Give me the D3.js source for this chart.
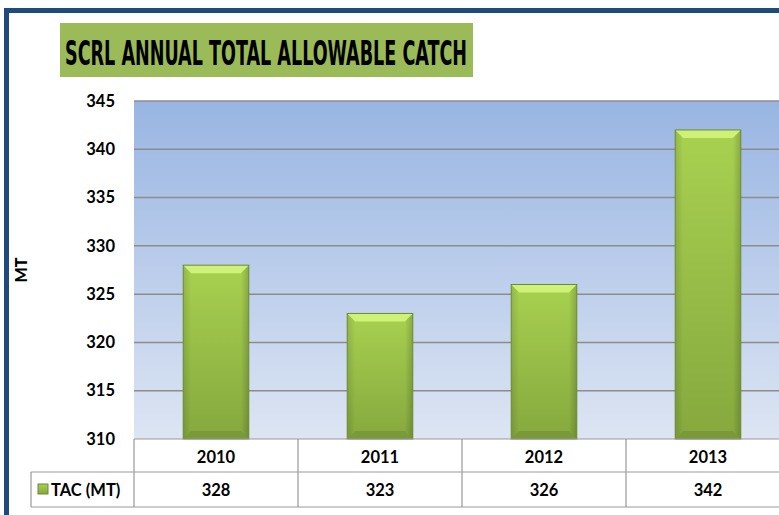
<!DOCTYPE html>
<html>
<head>
<meta charset="utf-8">
<script src="https://cdn.jsdelivr.net/npm/d3@7"></script>
<style>
  body { margin: 0; background: #fff; }
  svg { display: block; font-family: Lato, "Open Sans", sans-serif; }
</style>
</head>
<body>
<div id="chart"></div>
<script>
// chart data
const years = ["2010", "2011", "2012", "2013"];
const tac = [328, 323, 326, 342];
const yTicks = [310, 315, 320, 325, 330, 335, 340, 345];
const seriesName = "TAC (MT)";
const titleText = "SCRL ANNUAL TOTAL ALLOWABLE CATCH";

const width = 779, height = 515;
const plot = {left: 134, right: 790, top: 101, bottom: 439};
const rowH1 = 33, rowH2 = 35;

let svg = d3.select("#chart").append("svg")
    .attr("width", width)
    .attr("height", height);

let defs = svg.append("defs");

// plot background gradient
let bg = defs.append("linearGradient").attr("id", "bgGrad")
    .attr("x1", 0).attr("y1", 0).attr("x2", 0).attr("y2", 1);
bg.append("stop").attr("offset", "0%").attr("stop-color", "#98b5e2");
bg.append("stop").attr("offset", "100%").attr("stop-color", "#dde5f3");

// bar body gradient
let bar = defs.append("linearGradient").attr("id", "barGrad")
    .attr("x1", 0).attr("y1", 0).attr("x2", 0).attr("y2", 1);
bar.append("stop").attr("offset", "0%").attr("stop-color", "#a8d150");
bar.append("stop").attr("offset", "100%").attr("stop-color", "#86a83e");

let barSide = defs.append("linearGradient").attr("id", "barSide")
    .attr("x1", 0).attr("y1", 0).attr("x2", 1).attr("y2", 0);
barSide.append("stop").attr("offset", "0%").attr("stop-color", "#000").attr("stop-opacity", 0.12);
barSide.append("stop").attr("offset", "12%").attr("stop-color", "#000").attr("stop-opacity", 0);
barSide.append("stop").attr("offset", "88%").attr("stop-color", "#000").attr("stop-opacity", 0);
barSide.append("stop").attr("offset", "100%").attr("stop-color", "#000").attr("stop-opacity", 0.18);

// frame
svg.append("rect").attr("x", 4).attr("y", 8).attr("width", width).attr("height", 5).attr("fill", "#1f4a7e");
svg.append("rect").attr("x", 4).attr("y", 8).attr("width", 5).attr("height", height).attr("fill", "#1f4a7e");

// title
svg.append("rect").attr("x", 60).attr("y", 23).attr("width", 413).attr("height", 54).attr("fill", "#9bbb59");
svg.append("text")
    .attr("x", 65).attr("y", 65)
    .attr("textLength", 402).attr("lengthAdjust", "spacingAndGlyphs")
    .attr("font-family", "'Liberation Sans Narrow', 'DejaVu Sans Condensed', Lato, sans-serif")
    .attr("font-size", 34).attr("font-weight", "bold").attr("fill", "#000")
    .text(titleText);

// scales
let x = d3.scaleBand().domain(years).range([plot.left, plot.right]).paddingInner(0).paddingOuter(0);
let y = d3.scaleLinear().domain([310, 345]).range([plot.bottom, plot.top]);
let barW = x.bandwidth() * 0.4;

// plot area
svg.append("rect")
    .attr("x", plot.left).attr("y", plot.top)
    .attr("width", plot.right - plot.left).attr("height", plot.bottom - plot.top)
    .attr("fill", "url(#bgGrad)");

// gridlines
svg.append("g").selectAll("line")
    .data(yTicks.slice(1))
    .join("line")
    .attr("x1", plot.left).attr("x2", plot.right)
    .attr("y1", d => y(d)).attr("y2", d => y(d))
    .attr("stroke", "#8c8c8c").attr("stroke-width", 1.5);

// y axis labels
let yAxis = d3.axisLeft(y).tickValues(yTicks).tickSize(0).tickPadding(19);
svg.append("g")
    .attr("transform", "translate(" + plot.left + ",0)")
    .call(yAxis)
    .call(g => g.select(".domain").remove())
    .selectAll("text")
    .attr("font-family", "Lato, sans-serif")
    .attr("font-size", 16.5).attr("font-weight", "bold").attr("fill", "#000");

svg.append("text")
    .attr("transform", "translate(27,270) rotate(-90)")
    .attr("text-anchor", "middle")
    .attr("font-size", 16).attr("font-weight", 900)
    .text("MT");

// bars
let bars = svg.append("g").selectAll("g")
    .data(years.map((d, i) => ({year: d, value: tac[i]})))
    .join("g")
    .attr("transform", d => "translate(" + (x(d.year) + (x.bandwidth() - barW) / 2) + "," + y(d.value) + ")");

bars.append("rect")
    .attr("width", barW)
    .attr("height", d => plot.bottom - y(d.value))
    .attr("fill", "url(#barGrad)");
bars.append("rect")
    .attr("width", barW)
    .attr("height", d => plot.bottom - y(d.value))
    .attr("fill", "url(#barSide)");
// bevel top
bars.append("polygon")
    .attr("points", "0,0 " + barW + ",0 " + (barW - 8) + ",8 8,8")
    .attr("fill", "#cdf277");
// bevel bottom
bars.append("polygon")
    .attr("points", d => {
        let h = plot.bottom - y(d.value);
        return "8," + (h - 8) + " " + (barW - 8) + "," + (h - 8) + " " + barW + "," + h + " 0," + h;
    })
    .attr("fill", "#7a9a3a");
bars.append("rect")
    .attr("width", barW)
    .attr("height", d => plot.bottom - y(d.value))
    .attr("fill", "none").attr("stroke", "#6d8a36").attr("stroke-width", 1);

// data table
let tbl = svg.append("g").attr("stroke", "#999").attr("stroke-width", 1.2);
let r1 = plot.bottom, r2 = plot.bottom + rowH1, r3 = plot.bottom + rowH1 + rowH2;
tbl.append("line").attr("x1", plot.left).attr("x2", width).attr("y1", r1).attr("y2", r1);
tbl.append("line").attr("x1", 31).attr("x2", width).attr("y1", r2).attr("y2", r2);
tbl.append("line").attr("x1", 31).attr("x2", width).attr("y1", r3).attr("y2", r3);
tbl.append("line").attr("x1", 31).attr("x2", 31).attr("y1", r2).attr("y2", r3);
tbl.selectAll("line.v")
    .data(years)
    .join("line")
    .attr("class", "v")
    .attr("x1", d => x(d)).attr("x2", d => x(d))
    .attr("y1", r1).attr("y2", r3);

svg.append("g").selectAll("text")
    .data(years)
    .join("text")
    .attr("x", d => x(d) + x.bandwidth() / 2)
    .attr("y", r1 + 24)
    .attr("text-anchor", "middle")
    .attr("font-size", 16.5).attr("font-weight", "bold")
    .text(d => d);

svg.append("g").selectAll("text")
    .data(tac)
    .join("text")
    .attr("x", (d, i) => x(years[i]) + x.bandwidth() / 2)
    .attr("y", r2 + 24)
    .attr("text-anchor", "middle")
    .attr("font-size", 16.5).attr("font-weight", "bold")
    .text(d => d);

// legend key
svg.append("rect").attr("x", 38).attr("y", 484).attr("width", 10).attr("height", 10)
    .attr("fill", "url(#barGrad)").attr("stroke", "#6d8a36");
svg.append("text")
    .attr("x", 51).attr("y", r2 + 24)
    .attr("font-size", 16.5).attr("font-weight", "bold")
    .text(seriesName);
</script>
</body>
</html>
